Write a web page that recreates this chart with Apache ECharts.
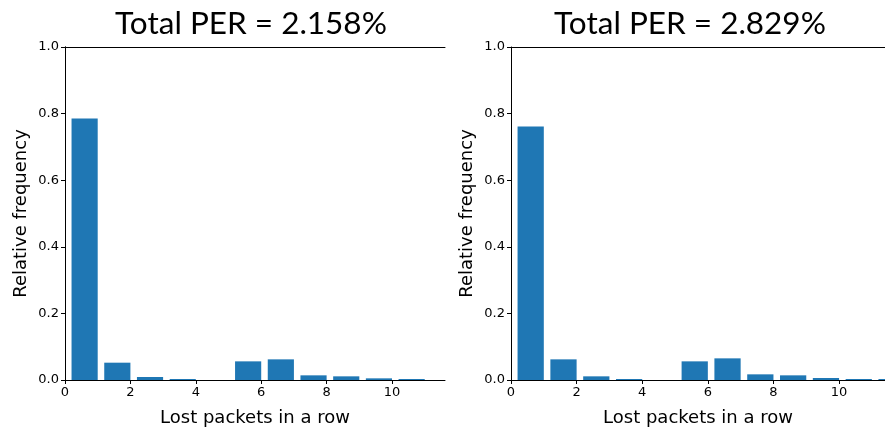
<!DOCTYPE html>
<html lang="en">
<head>
<meta charset="UTF-8">
<title>Lost packets histogram</title>
<script src="https://cdn.jsdelivr.net/npm/echarts@6/dist/echarts.min.js"></script>
<style>
  html, body { margin: 0; padding: 0; background: #fff; }
  #main { width: 885px; height: 432px; }
</style>
</head>
<body>
<div id="main"></div>
<script>
// bin left edges and relative frequencies for each run
var binsLeft = [0, 1, 2, 3, 4, 5, 6, 7, 8, 9, 10];
var freqLeft = [0.785, 0.052, 0.009, 0.003, 0, 0.056, 0.062, 0.014, 0.011, 0.005, 0.003];
var binsRight = [0, 1, 2, 3, 4, 5, 6, 7, 8, 9, 10, 11];
var freqRight = [0.761, 0.062, 0.011, 0.003, 0, 0.056, 0.065, 0.017, 0.014, 0.006, 0.003, 0.003];
var titles = ['Total PER = 2.158%', 'Total PER = 2.829%'];
var xMax = [11.62, 11.4];

var blue = '#1f77b4';
var tickFont = 'DejaVu Sans';

function histData(bins, freq) {
    var out = [];
    for (var i = 0; i < bins.length; i++) {
        out.push([bins[i], bins[i] + 1, freq[i]]);
    }
    return out;
}

// bars take the right 80% of each bin
function renderBar(params, api) {
    var start = api.value(0), end = api.value(1), h = api.value(2);
    var p0 = api.coord([start + 0.2, h]);
    var p1 = api.coord([end, 0]);
    return {
        type: 'rect',
        shape: { x: p0[0], y: p0[1], width: p1[0] - p0[0], height: p1[1] - p0[1] },
        style: { fill: blue }
    };
}

function xAxis(idx, max) {
    return {
        type: 'value', gridIndex: idx, min: 0, max: max, interval: 2,
        name: 'Lost packets in a row', nameLocation: 'middle', nameGap: 29,
        nameTextStyle: { fontFamily: tickFont, fontSize: 18, color: '#000' },
        axisLine: { show: true, onZero: false, lineStyle: { color: '#000', width: 1 } },
        axisTick: { show: true, length: 4, lineStyle: { color: '#000' } },
        axisLabel: { fontFamily: tickFont, fontSize: 13, color: '#000', margin: 6,
            showMaxLabel: false },
        splitLine: { show: false }
    };
}

// plain spine on the top edge
function topSpine(idx, max) {
    return {
        type: 'value', gridIndex: idx, position: 'top', min: 0, max: max,
        axisLine: { show: true, onZero: false, lineStyle: { color: '#000', width: 1 } },
        axisTick: { show: false }, axisLabel: { show: false }, splitLine: { show: false }
    };
}

function yAxis(idx) {
    return {
        type: 'value', gridIndex: idx, min: 0, max: 1, interval: 0.2,
        name: 'Relative frequency', nameLocation: 'middle', nameGap: 35,
        nameTextStyle: { fontFamily: tickFont, fontSize: 18, color: '#000' },
        axisLine: { show: true, lineStyle: { color: '#000', width: 1 } },
        axisTick: { show: true, length: 4, lineStyle: { color: '#000' } },
        axisLabel: { fontFamily: tickFont, fontSize: 13, color: '#000', margin: 6,
            formatter: function (v) { return v.toFixed(1); } },
        splitLine: { show: false }
    };
}

function rightSpine(idx) {
    return {
        type: 'value', gridIndex: idx, position: 'right', min: 0, max: 1,
        axisLine: { show: true, lineStyle: { color: '#000', width: 1 } },
        axisTick: { show: false }, axisLabel: { show: false }, splitLine: { show: false }
    };
}

var myChart = echarts.init(document.getElementById('main'), null, { renderer: 'canvas' });

var titleStyle = { fontFamily: 'Lato', fontSize: 31.5, fontWeight: 'normal', color: '#000' };

var option = {
    animation: false,
    backgroundColor: '#fff',
    title: [
        { text: titles[0], left: 246, top: 3, textAlign: 'center', textStyle: titleStyle },
        { text: titles[1], left: 685, top: 3, textAlign: 'center', textStyle: titleStyle }
    ],
    grid: [
        { left: 65, top: 47, width: 380, height: 334 },
        { left: 511, top: 47, width: 374, height: 334 }
    ],
    xAxis: [xAxis(0, xMax[0]), xAxis(1, xMax[1]), topSpine(0, xMax[0]), topSpine(1, xMax[1])],
    yAxis: [yAxis(0), yAxis(1), rightSpine(0)],
    series: [
        { type: 'custom', xAxisIndex: 0, yAxisIndex: 0, renderItem: renderBar,
          encode: { x: [0, 1], y: 2 }, data: histData(binsLeft, freqLeft), clip: true },
        { type: 'custom', xAxisIndex: 1, yAxisIndex: 1, renderItem: renderBar,
          encode: { x: [0, 1], y: 2 }, data: histData(binsRight, freqRight), clip: true }
    ]
};

myChart.setOption(option);
</script>
</body>
</html>
